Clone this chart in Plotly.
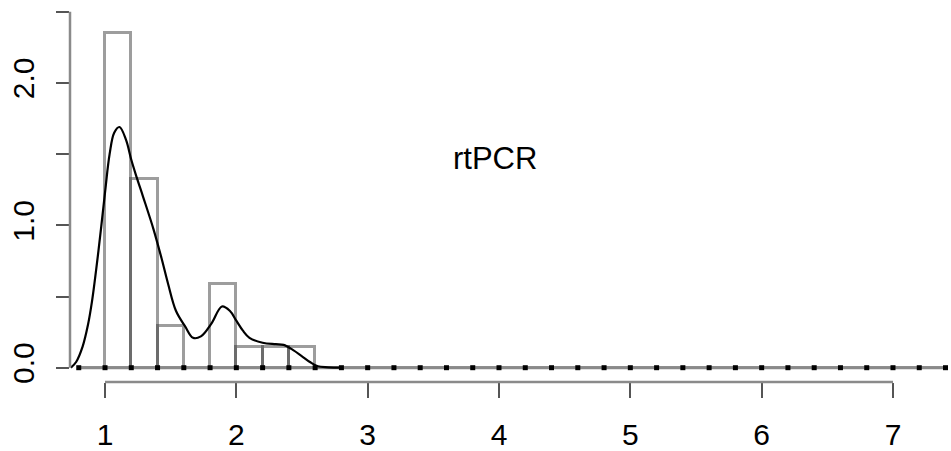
import plotly.graph_objects as go

# Histogram (density scale), bin width 0.2
breaks = [round(0.8 + 0.2 * i, 1) for i in range(34)]  # 0.8 ... 7.4
bin_heights = [0.0, 2.353, 1.324, 0.294, 0.0, 0.588, 0.147, 0.147, 0.147] + [0.0] * 24

# Kernel density curve
dens_x = [0.74, 0.78, 0.83, 0.87, 0.90, 0.95, 1.00, 1.035, 1.07, 1.11, 1.16, 1.20, 1.24,
          1.29, 1.37, 1.43, 1.48, 1.54, 1.61, 1.67, 1.73, 1.81, 1.89, 1.95, 2.00, 2.05,
          2.10, 2.20, 2.30, 2.36, 2.43, 2.50, 2.56, 2.62, 2.70, 2.80]
dens_y = [0.0, 0.04, 0.15, 0.30, 0.46, 0.82, 1.23, 1.50, 1.65, 1.69, 1.60, 1.46, 1.34,
          1.20, 0.97, 0.77, 0.59, 0.40, 0.29, 0.21, 0.22, 0.31, 0.43, 0.40, 0.33, 0.26,
          0.21, 0.175, 0.165, 0.16, 0.125, 0.08, 0.04, 0.01, 0.003, 0.0]

x_ticks = [1, 2, 3, 4, 5, 6, 7]
y_ticks = [0.0, 0.5, 1.0, 1.5, 2.0, 2.5]
y_ticktext = ["0.0", "", "1.0", "", "2.0", ""]
label = "rtPCR"

FONT = "Liberation Sans, Arial, Helvetica, sans-serif"
GRAY = "#8a8a8a"

centers = [b + 0.1 for b in breaks[:-1]]

fig = go.Figure()
fig.add_trace(go.Bar(
    x=centers, y=bin_heights, width=0.2,
    marker=dict(color="rgba(255,255,255,0)", line=dict(color="rgba(60,60,60,0.5)", width=3)),
    hoverinfo="skip", showlegend=False,
))
# baseline of histogram with break points
fig.add_trace(go.Scatter(
    x=breaks, y=[0] * len(breaks), mode="lines+markers",
    line=dict(color=GRAY, width=3),
    marker=dict(color="black", size=5, symbol="square"),
    hoverinfo="skip", showlegend=False,
))
fig.add_trace(go.Scatter(
    x=dens_x, y=dens_y, mode="lines", line=dict(color="black", width=2.2, shape="spline"),
    hoverinfo="skip", showlegend=False,
))

fig.add_annotation(x=3.97, y=1.47, text=label, showarrow=False,
                   font=dict(family=FONT, size=31, color="black"),
                   xanchor="center", yanchor="middle")

# R-style axis lines spanning tick range only
fig.add_shape(type="line", xref="x", yref="paper", x0=x_ticks[0], x1=x_ticks[-1], y0=0, y1=0,
              line=dict(color=GRAY, width=2.5))
fig.add_shape(type="line", xref="paper", yref="y", x0=0, x1=0, y0=y_ticks[0], y1=y_ticks[-1],
              line=dict(color=GRAY, width=2.5))

fig.update_layout(
    width=951, height=451,
    margin=dict(l=70, r=0, t=2, b=69),
    paper_bgcolor="white", plot_bgcolor="white",
    bargap=0,
    xaxis=dict(range=[0.7334, 7.4417], tickvals=x_ticks, ticks="outside", ticklen=15,
               tickwidth=2, tickcolor="#555", showline=False, showgrid=False, zeroline=False,
               automargin=False, ticklabelstandoff=11,
               tickfont=dict(family=FONT, size=30, color="black")),
    yaxis=dict(range=[-0.1004, 2.568], tickvals=y_ticks, ticktext=y_ticktext, tickangle=-90,
               ticks="outside", ticklen=13, tickwidth=2, tickcolor="#555", showline=False,
               showgrid=False, zeroline=False, automargin=False, ticklabelstandoff=10,
               tickfont=dict(family=FONT, size=30, color="black")),
)

fig.write_html("out.html", config={"displayModeBar": False},
               post_script="document.body.style.margin='0px';")
